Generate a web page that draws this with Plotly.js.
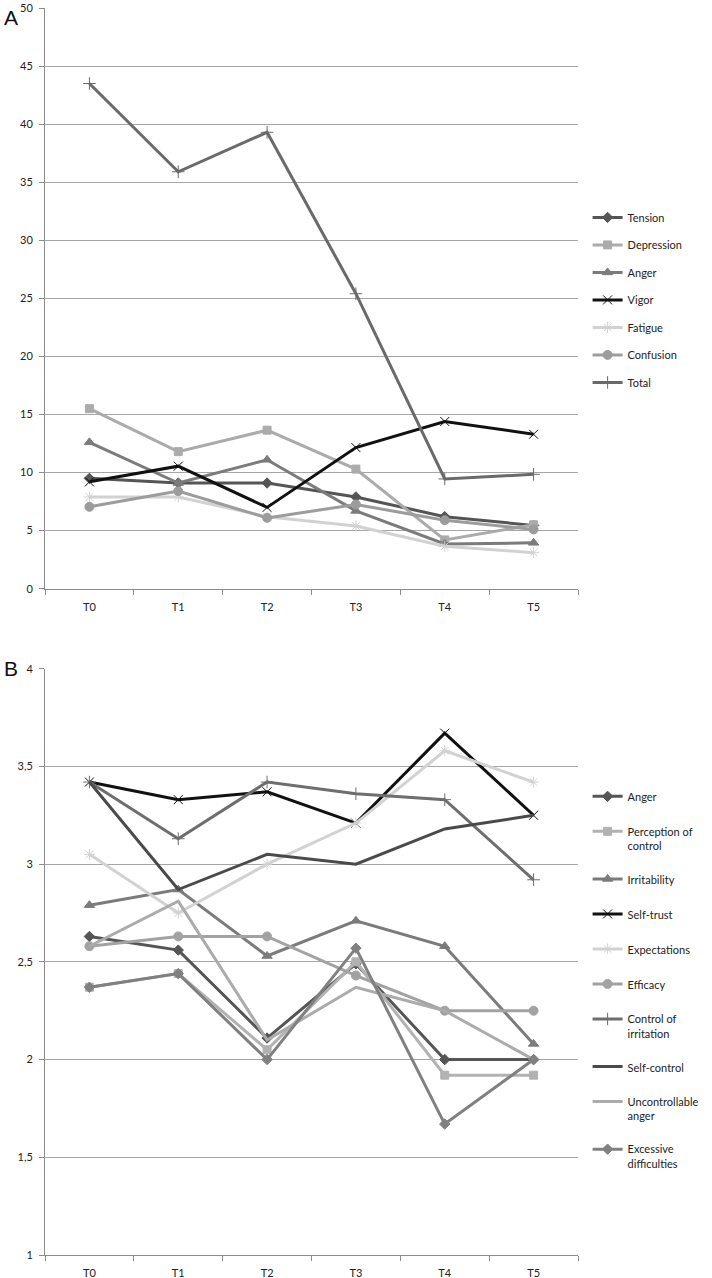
<!DOCTYPE html>
<html>
<head>
<meta charset="utf-8">
<script src="https://cdn.plot.ly/plotly-3.0.1.min.js"></script>
<style>html,body{margin:0;padding:0;background:#fff;}#chart{width:712px;height:1278px;}</style>
</head>
<body>
<div id="chart"></div>
<script>
// ---- Data ----
const categories = ['T0', 'T1', 'T2', 'T3', 'T4', 'T5'];

// Panel A (POMS)
const namesA = ['Tension', 'Depression', 'Anger', 'Vigor', 'Fatigue', 'Confusion', 'Total'];
const tension    = [9.5, 9.1, 9.1, 7.9, 6.2, 5.45];
const depression = [15.5, 11.8, 13.65, 10.3, 4.2, 5.5];
const angerA     = [12.6, 9.1, 11.1, 6.7, 3.85, 3.95];
const vigor      = [9.2, 10.55, 7.0, 12.15, 14.4, 13.3];
const fatigue    = [7.9, 7.9, 6.2, 5.4, 3.65, 3.1];
const confusion  = [7.05, 8.4, 6.1, 7.25, 5.9, 5.1];
const total      = [43.5, 35.9, 39.3, 25.4, 9.45, 9.85];

// Panel B
const namesB = ['Anger', 'Perception of<br>control', 'Irritability', 'Self-trust', 'Expectations',
                'Efficacy', 'Control of<br>irritation', 'Self-control', 'Uncontrollable<br>anger',
                'Excessive<br>difficulties'];
const angerB            = [2.63, 2.56, 2.11, 2.49, 2.0, 2.0];
const perception        = [2.37, 2.44, 2.05, 2.5, 1.92, 1.92];
const irritability      = [2.79, 2.87, 2.53, 2.71, 2.58, 2.08];
const selfTrust         = [3.42, 3.33, 3.37, 3.21, 3.67, 3.25];
const expectations      = [3.05, 2.75, 3.0, 3.21, 3.58, 3.42];
const efficacy          = [2.58, 2.63, 2.63, 2.43, 2.25, 2.25];
const controlIrritation = [3.42, 3.13, 3.42, 3.36, 3.33, 2.92];
const selfControl       = [3.42, 2.87, 3.05, 3.0, 3.18, 3.25];
const uncontrollable    = [2.58, 2.81, 2.1, 2.37, 2.25, 2.0];
const excessive         = [2.37, 2.44, 2.0, 2.57, 1.67, 2.0];

// ---- Styles ----
const stylesA = [
  {c: '#555555', s: 'diamond', sz: 8},
  {c: '#ababab', s: 'square', sz: 8},
  {c: '#7b7b7b', s: 'triangle-up', sz: 9},
  {c: '#111111', s: 'x-thin-open', sz: 9},
  {c: '#d2d2d2', s: 'asterisk-open', sz: 9},
  {c: '#9c9c9c', s: 'circle', sz: 9},
  {c: '#6a6a6a', s: 'cross-thin-open', sz: 9}
];
const stylesB = [
  {c: '#555555', s: 'diamond', sz: 8},
  {c: '#b2b2b2', s: 'square', sz: 8},
  {c: '#7b7b7b', s: 'triangle-up', sz: 9},
  {c: '#111111', s: 'x-thin-open', sz: 9},
  {c: '#d2d2d2', s: 'asterisk-open', sz: 9},
  {c: '#a2a2a2', s: 'circle', sz: 9},
  {c: '#6e6e6e', s: 'cross-thin-open', sz: 9},
  {c: '#4a4a4a', s: null, sz: 0},
  {c: '#ababab', s: null, sz: 0},
  {c: '#808080', s: 'diamond', sz: 8}
];

const seriesA = [tension, depression, angerA, vigor, fatigue, confusion, total];
const seriesB = [angerB, perception, irritability, selfTrust, expectations, efficacy,
                 controlIrritation, selfControl, uncontrollable, excessive];

const traces = [];
seriesA.forEach((vals, i) => {
  const st = stylesA[i];
  traces.push({
    type: 'scatter', mode: 'lines+markers', x: categories, y: vals,
    name: namesA[i], xaxis: 'x', yaxis: 'y', legend: 'legend', legendgroup: 'a' + i,
    line: {color: st.c, width: 3},
    marker: {symbol: st.s, size: st.sz, color: st.c, line: {color: st.c, width: 1}}
  });
});
seriesB.forEach((vals, i) => {
  const st = stylesB[i];
  const t = {
    type: 'scatter', mode: st.s ? 'lines+markers' : 'lines', x: categories, y: vals,
    name: namesB[i], xaxis: 'x2', yaxis: 'y2', legend: 'legend2', legendgroup: 'b' + i,
    line: {color: st.c, width: 3}
  };
  if (st.s) t.marker = {symbol: st.s, size: st.sz, color: st.c, line: {color: st.c, width: 1}};
  traces.push(t);
});

const FONT = 'Lato, "Open Sans", sans-serif';
const xAxisBase = {
  type: 'category', range: [-0.5, 5.5], showgrid: false, showline: true,
  linecolor: '#8c8c8c', linewidth: 1, ticks: 'outside', tickson: 'boundaries',
  ticklen: 5, tickcolor: '#8c8c8c', ticklabelstandoff: 8, ticklabeloverflow: 'allow',
  tickfont: {family: FONT, size: 11, color: '#222'}, zeroline: false, fixedrange: true
};
const yAxisBase = {
  showgrid: true, gridcolor: '#a6a6a6', gridwidth: 1, showline: true,
  linecolor: '#8c8c8c', linewidth: 1, ticks: 'outside', ticklen: 5, tickcolor: '#8c8c8c',
  ticklabelstandoff: 4, ticklabeloverflow: 'allow', tickfont: {family: FONT, size: 11, color: '#222'},
  zeroline: false, fixedrange: true
};

const H = 1247; // plot-area height (1278 - 8 - 23)
const layout = {
  width: 712, height: 1278,
  margin: {l: 45, r: 132, t: 8, b: 23},
  paper_bgcolor: '#ffffff', plot_bgcolor: '#ffffff',
  separators: ', ',
  showlegend: true,
  xaxis: Object.assign({}, xAxisBase, {anchor: 'y'}),
  yaxis: Object.assign({}, yAxisBase, {domain: [1 - 580.7 / H, 1], range: [0, 50.001], tickvals: [0,5,10,15,20,25,30,35,40,45,50], anchor: 'x'}),
  xaxis2: Object.assign({}, xAxisBase, {anchor: 'y2'}),
  yaxis2: Object.assign({}, yAxisBase, {domain: [0, 1 - 660.7 / H], range: [1, 4], dtick: 0.5, tick0: 1, anchor: 'x2'}),
  legend: {
    x: 1.018, xanchor: 'left', y: 1 - 194.9 / H, yanchor: 'top',
    font: {family: FONT, size: 11, color: '#222'},
    traceorder: 'grouped', tracegroupgap: 8.5, bgcolor: 'rgba(0,0,0,0)', itemwidth: 30
  },
  legend2: {
    x: 1.018, xanchor: 'left', y: 1 - 774.7 / H, yanchor: 'top', valign: 'top',
    font: {family: FONT, size: 11, color: '#222'},
    traceorder: 'grouped', tracegroupgap: 16, bgcolor: 'rgba(0,0,0,0)', itemwidth: 30
  },
  annotations: [
    {text: 'A', xref: 'paper', yref: 'paper', x: -43 / 535, y: 1 - (18 - 8) / H,
     xanchor: 'left', yanchor: 'middle', showarrow: false,
     font: {family: 'Liberation Sans, Arial, sans-serif', size: 21, color: '#111'}},
    {text: 'B', xref: 'paper', yref: 'paper', x: -43 / 535, y: 1 - (668 - 8) / H,
     xanchor: 'left', yanchor: 'middle', showarrow: false,
     font: {family: 'Liberation Sans, Arial, sans-serif', size: 21, color: '#111'}}
  ]
};

Plotly.newPlot('chart', traces, layout, {displayModeBar: false, staticPlot: true});
</script>
</body>
</html>
